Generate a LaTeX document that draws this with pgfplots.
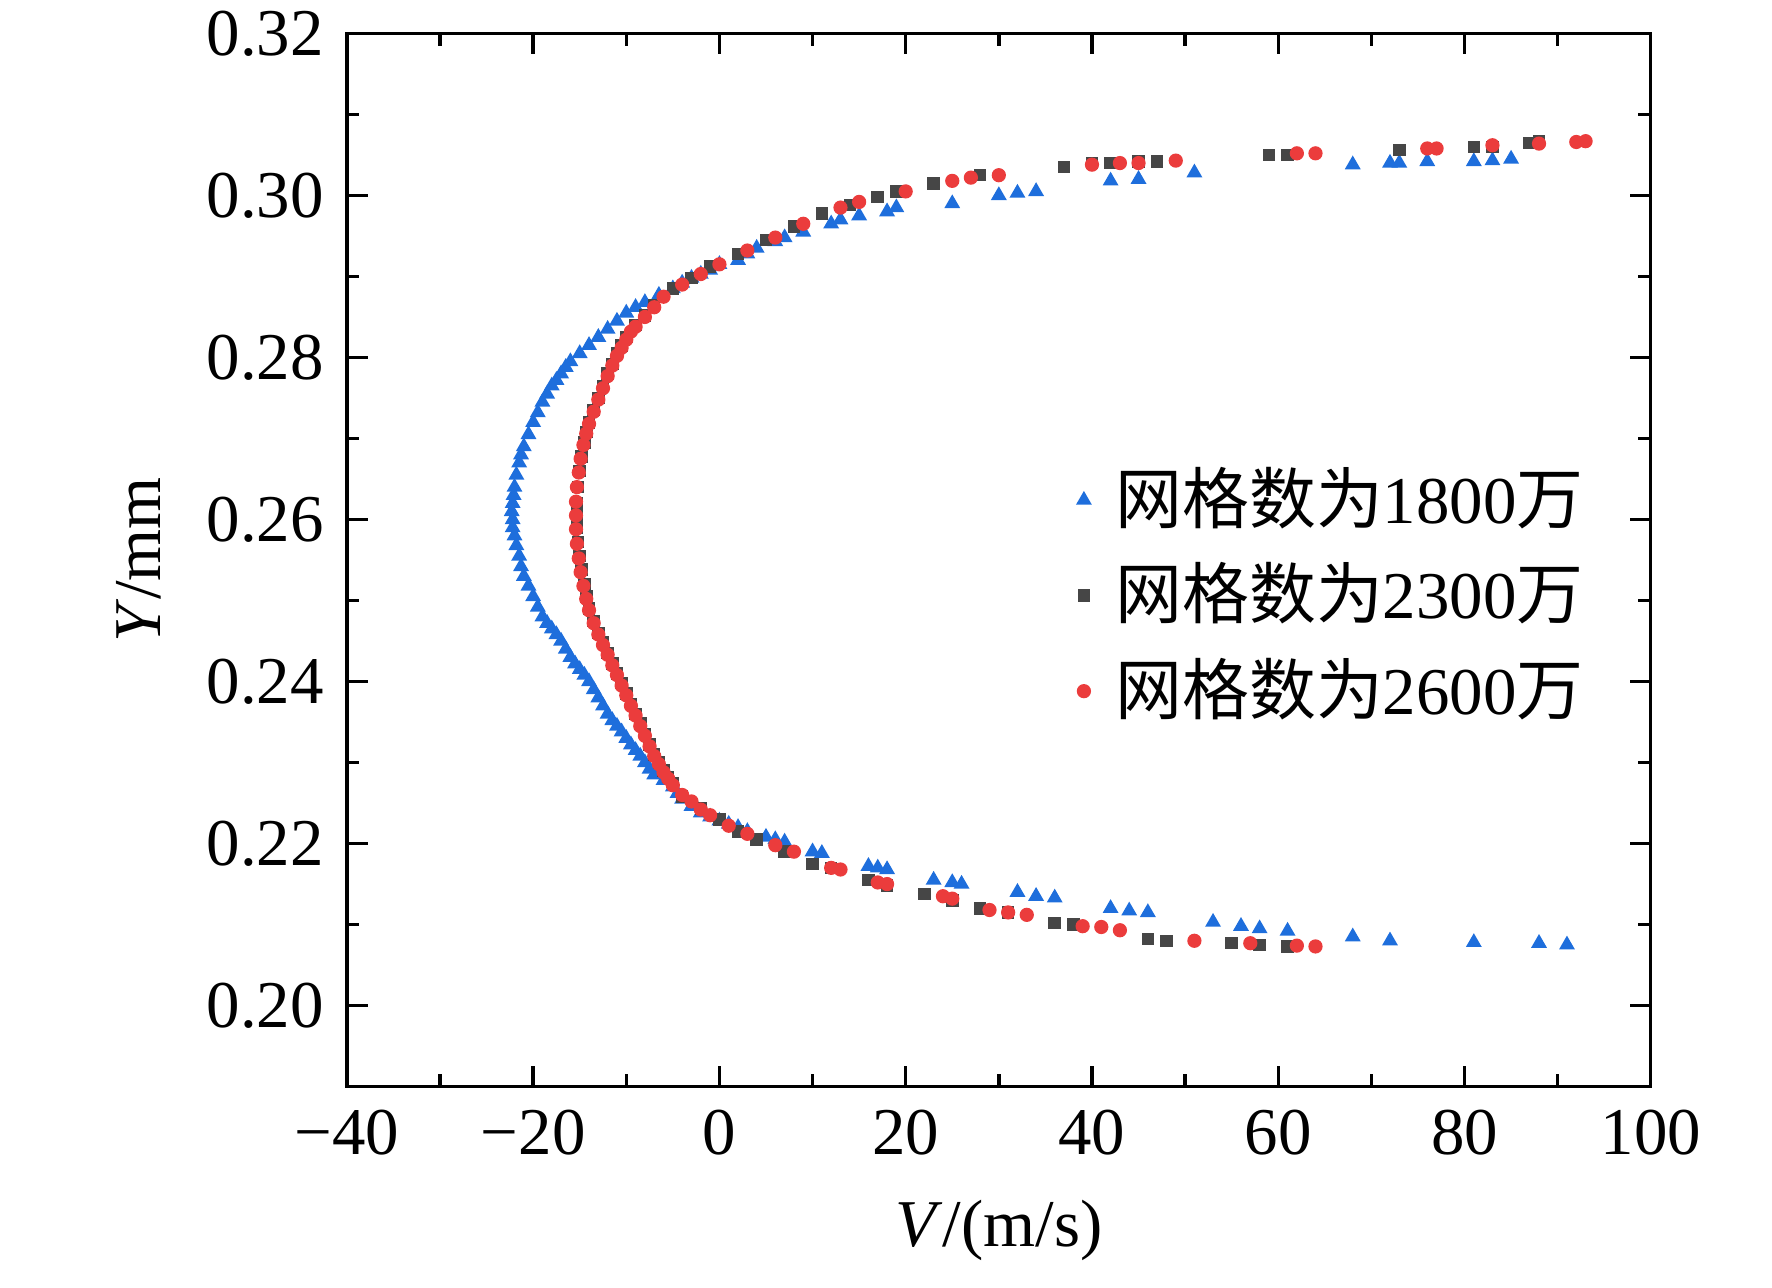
\documentclass[border=0pt]{standalone}
\usepackage{pgfplots}
\pgfplotsset{compat=1.18}
\usepackage{fontspec}
\setmainfont{Liberation Serif}
\newfontfamily\cjk{Noto Sans CJK SC}
\begin{document}
\begin{tikzpicture}
\fontsize{16}{19}\selectfont
\path[use as bounding box] (-83pt,-48pt) rectangle (341pt,260pt);
\begin{axis}[at={(0,0)},anchor=south west,scale only axis,width=312pt,height=252pt,
 xmin=-40,xmax=100,ymin=0.19,ymax=0.32,
 xtick={-40,-20,...,100},ytick={0.20,0.22,...,0.32},
 xticklabels={−40,−20,0,20,40,60,80,100},
 minor x tick num=1,minor y tick num=1,
 tick align=inside,tick pos=both,major tick length=5pt,minor tick length=3pt,
 axis line style={line width=0.8pt},every tick/.style={black,line width=0.8pt},
 yticklabel style={/pgf/number format/fixed,/pgf/number format/fixed zerofill,/pgf/number format/precision=2},
 /pgf/number format/assume math mode=true,
 ticklabel style={font=\fontsize{16}{19}\selectfont},
 xlabel={\textit{V}/(m/s)},ylabel={\textit{Y}/mm},
 label style={font=\fontsize{16}{19}\selectfont},
 legend style={draw=none,fill=none,at={(0.55,0.605)},anchor=north west,font=\fontsize{16}{19}\selectfont,row sep=3pt,
   nodes={inner xsep=6pt}},
 legend cell align=left,
 ]
\addplot[only marks,mark=triangle*,mark size=1.8pt,color={rgb,255:red,30;green,110;blue,220}] coordinates {
(91,0.2075)(88,0.2077)(81,0.2078)(72,0.208)(68,0.2085)(61,0.2092)(58,0.2095)(56,0.2098)(53,0.2103)(46,0.2115)(44,0.2117)(42,0.212)(36,0.2133)(34,0.2135)(32,0.214)(26,0.215)(25,0.2152)(23,0.2155)(18,0.2168)(17,0.217)(16,0.2172)(11,0.2188)(10,0.219)(7,0.2202)(6,0.2205)(5,0.2208)(3,0.2215)(2,0.222)(1,0.2224)(0,0.2228)(-1,0.2233)(-2,0.2238)(-3,0.2246)(-4,0.2255)(-4.5,0.2262)(-5,0.227)(-6,0.2278)(-7,0.2285)(-7.5,0.2292)(-8,0.23)(-8.5,0.2308)(-9,0.2315)(-9.5,0.2322)(-10,0.233)(-10.5,0.2338)(-11,0.2345)(-11.5,0.2352)(-12,0.236)(-12.5,0.237)(-13,0.238)(-13.5,0.239)(-14,0.24)(-14.5,0.2408)(-15,0.2415)(-15.5,0.2422)(-16,0.243)(-16.5,0.244)(-17,0.245)(-17.5,0.2458)(-18,0.2465)(-18.5,0.2472)(-19,0.248)(-19.5,0.2492)(-20,0.2505)(-20.5,0.2518)(-21,0.253)(-21.3,0.2542)(-21.5,0.2555)(-21.8,0.2568)(-22,0.258)(-22.2,0.259)(-22.2,0.26)(-22.3,0.261)(-22.2,0.262)(-22.1,0.263)(-22,0.264)(-21.8,0.2655)(-21.5,0.267)(-21.3,0.268)(-21,0.269)(-20.5,0.2705)(-20,0.272)(-19.5,0.2732)(-19,0.2745)(-18.5,0.2755)(-18,0.2765)(-17.5,0.2772)(-17,0.278)(-16.5,0.2788)(-16,0.2795)(-15,0.2805)(-14,0.2815)(-13,0.2825)(-12,0.2835)(-11,0.2845)(-10,0.2855)(-9,0.2862)(-8,0.2868)(-6.5,0.2877)(-5,0.2885)(-4,0.2892)(-3,0.2898)(-2,0.2903)(-1,0.2908)(0,0.2915)(2,0.292)(3,0.2928)(4,0.2935)(6,0.2943)(7,0.2948)(9,0.2955)(12,0.2965)(13,0.297)(15,0.2975)(18,0.298)(19,0.2985)(25,0.299)(30,0.3)(32,0.3003)(34,0.3005)(42,0.3018)(45,0.302)(51,0.3028)(68,0.3038)(72,0.304)(73,0.304)(76,0.3042)(81,0.3042)(83,0.3043)(85,0.3045)};
\addlegendentry{{\cjk 网格数为}1800{\cjk 万}}
\addplot[only marks,mark=square*,mark size=1.3pt,color={rgb,255:red,70;green,70;blue,70}] coordinates {
(61,0.2073)(58,0.2075)(55,0.2077)(48,0.208)(46,0.2082)(38,0.21)(36,0.2102)(31,0.2115)(28,0.212)(25,0.213)(22,0.2138)(18,0.2148)(16,0.2155)(12,0.217)(10,0.2175)(7,0.219)(4,0.2205)(2,0.2215)(0,0.223)(-2,0.2243)(-4,0.2258)(-5,0.2275)(-5.5,0.2282)(-6,0.229)(-6.5,0.23)(-7,0.231)(-7.5,0.2322)(-8,0.2335)(-8.5,0.2348)(-9,0.236)(-9.5,0.2372)(-10,0.2385)(-10.5,0.2398)(-11,0.241)(-11.5,0.2422)(-12,0.2435)(-12.5,0.2448)(-13,0.246)(-13.5,0.2475)(-14,0.249)(-14.3,0.2505)(-14.5,0.252)(-14.8,0.2538)(-15,0.2555)(-15.2,0.2572)(-15.3,0.259)(-15.3,0.2605)(-15.3,0.262)(-15.2,0.264)(-15,0.266)(-14.8,0.2678)(-14.5,0.2695)(-14.3,0.2708)(-14,0.272)(-13.5,0.2735)(-13,0.275)(-12.5,0.2765)(-12,0.278)(-11.5,0.2792)(-11,0.2805)(-10.5,0.2815)(-10,0.2825)(-9,0.284)(-8,0.2852)(-7,0.2865)(-5,0.2885)(-3,0.2898)(-1,0.2912)(2,0.2928)(5,0.2945)(8,0.2962)(11,0.2978)(14,0.2988)(17,0.2998)(19,0.3005)(23,0.3015)(28,0.3025)(37,0.3035)(40,0.304)(42,0.304)(45,0.3042)(47,0.3042)(59,0.305)(61,0.305)(73,0.3056)(81,0.306)(83,0.306)(87,0.3065)(88,0.3067)};
\addlegendentry{{\cjk 网格数为}2300{\cjk 万}}
\addplot[only marks,mark=*,mark size=1.5pt,color={rgb,255:red,235;green,60;blue,60}] coordinates {
(64,0.2073)(62,0.2074)(57,0.2077)(51,0.208)(43,0.2093)(41,0.2097)(39,0.2098)(33,0.2112)(31,0.2115)(29,0.2118)(25,0.2132)(24,0.2135)(18,0.215)(17,0.2152)(13,0.2168)(12,0.217)(8,0.219)(6,0.2198)(3,0.2212)(1,0.2222)(-1,0.2235)(-2,0.2242)(-3,0.2252)(-4,0.226)(-5,0.2272)(-5.5,0.228)(-6,0.2288)(-6.5,0.2298)(-7,0.2308)(-7.5,0.232)(-8,0.2333)(-8.5,0.2345)(-9,0.2358)(-9.5,0.237)(-10,0.2383)(-10.5,0.2395)(-11,0.2408)(-11.5,0.242)(-12,0.2433)(-12.5,0.2445)(-13,0.2458)(-13.5,0.2472)(-14,0.2488)(-14.3,0.2502)(-14.6,0.2518)(-14.9,0.2535)(-15.1,0.2552)(-15.3,0.257)(-15.4,0.2588)(-15.4,0.2605)(-15.4,0.2622)(-15.3,0.264)(-15.1,0.2658)(-14.9,0.2675)(-14.6,0.2692)(-14.3,0.2706)(-14,0.2718)(-13.5,0.2733)(-13,0.2748)(-12.5,0.2762)(-12,0.2777)(-11.5,0.279)(-11,0.2802)(-10.5,0.2812)(-10,0.2822)(-9.5,0.2832)(-9,0.2838)(-8,0.285)(-7,0.2862)(-6,0.2875)(-4,0.289)(-2,0.2903)(0,0.2915)(3,0.2932)(6,0.2948)(9,0.2965)(13,0.2985)(15,0.2992)(20,0.3005)(25,0.3018)(27,0.3022)(30,0.3025)(40,0.3038)(43,0.304)(45,0.304)(49,0.3043)(62,0.3052)(64,0.3052)(76,0.3058)(77,0.3058)(83,0.3062)(88,0.3064)(92,0.3066)(93,0.3067)};
\addlegendentry{{\cjk 网格数为}2600{\cjk 万}}
\end{axis}
\end{tikzpicture}
\end{document}
